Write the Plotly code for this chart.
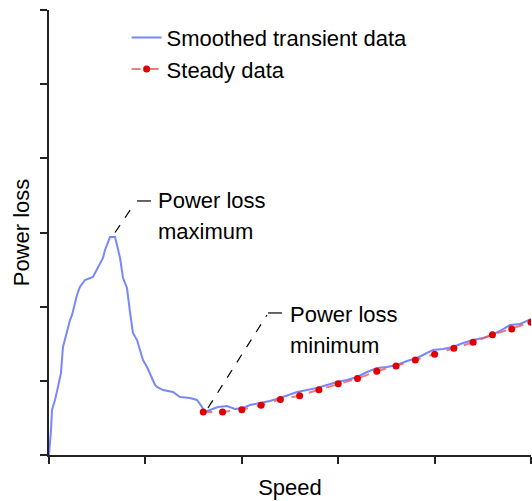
import plotly.graph_objects as go

# Smoothed transient data (speed, power loss) in axis units
transient_speed = [0.000, 0.010, 0.021, 0.031, 0.062, 0.093, 0.124, 0.145, 0.187, 0.218,
                   0.239, 0.290, 0.321, 0.373, 0.456, 0.508, 0.560, 0.581, 0.612, 0.633,
                   0.685, 0.705, 0.737, 0.768, 0.809, 0.840, 0.861, 0.871, 0.913, 0.944,
                   0.975, 1.017, 1.068, 1.100, 1.120, 1.183, 1.286, 1.359, 1.463, 1.535,
                   1.587, 1.618, 1.670, 1.753, 1.846, 1.929, 2.012, 2.085, 2.188, 2.292,
                   2.396, 2.500, 2.573, 2.676, 2.780, 2.884, 2.988, 3.091, 3.195, 3.299,
                   3.402, 3.506, 3.610, 3.714, 3.817, 3.900, 3.983, 4.087, 4.191, 4.295,
                   4.398, 4.502, 4.595, 4.678, 4.782, 4.886, 4.990, 5.000]
transient_loss = [0.000, 0.135, 0.337, 0.607, 0.742, 0.917, 1.106, 1.456, 1.685, 1.820,
                  1.888, 2.157, 2.265, 2.359, 2.400, 2.521, 2.656, 2.764, 2.872, 2.939,
                  2.939, 2.831, 2.656, 2.386, 2.252, 1.928, 1.739, 1.645, 1.550, 1.416,
                  1.281, 1.186, 1.025, 0.944, 0.917, 0.876, 0.849, 0.782, 0.769, 0.742,
                  0.647, 0.580, 0.607, 0.647, 0.661, 0.620, 0.634, 0.674, 0.701, 0.728,
                  0.769, 0.822, 0.849, 0.876, 0.903, 0.944, 0.984, 1.011, 1.052, 1.119,
                  1.173, 1.186, 1.213, 1.267, 1.308, 1.362, 1.416, 1.429, 1.456, 1.510,
                  1.550, 1.577, 1.618, 1.672, 1.753, 1.766, 1.820, 1.830]

# Steady data
steady_speed = [1.6, 1.8, 2.0, 2.2, 2.4, 2.6, 2.8, 3.0, 3.2, 3.4, 3.6, 3.8, 4.0, 4.2,
                4.4, 4.6, 4.8, 5.0]
steady_loss = [0.58, 0.58, 0.61, 0.67, 0.75, 0.80, 0.88, 0.96, 1.03, 1.13, 1.20, 1.28,
               1.36, 1.44, 1.52, 1.62, 1.70, 1.79]

x_ticks = [0, 1, 2, 3, 4, 5]
y_ticks = [0, 1, 2, 3, 4, 5, 6]

FONT = "Liberation Sans, Arial, sans-serif"

fig = go.Figure()
fig.add_trace(go.Scatter(
    x=transient_speed, y=transient_loss, mode="lines",
    name="Smoothed transient data",
    line=dict(color="rgb(120,135,250)", width=2),
))
fig.add_trace(go.Scatter(
    x=steady_speed, y=steady_loss, mode="lines+markers",
    name="Steady data",
    line=dict(color="rgba(235,90,90,0.8)", width=2, dash="dash"),
    marker=dict(color="#e00000", size=7, symbol="circle"),
))

shapes = [
    dict(type="line", xref="x", yref="y", x0=0.685, y0=3.0, x1=0.892, y1=3.398,
         line=dict(color="black", width=1.2, dash="dash")),
    dict(type="line", xref="x", yref="y", x0=0.913, y0=3.425, x1=1.058, y1=3.425,
         line=dict(color="black", width=1.2)),
    dict(type="line", xref="x", yref="y", x0=1.649, y0=0.634, x1=2.261, y1=1.888,
         line=dict(color="black", width=1.2, dash="dash")),
    dict(type="line", xref="x", yref="y", x0=2.272, y0=1.915, x1=2.417, y1=1.915,
         line=dict(color="black", width=1.2)),
]

annotations = [
    dict(x=1.111, y=3.425, text="Power loss"),
    dict(x=1.111, y=3.007, text="maximum"),
    dict(x=2.480, y=1.901, text="Power loss"),
    dict(x=2.480, y=1.483, text="minimum"),
]
for a in annotations:
    a.update(xref="x", yref="y", xanchor="left", yanchor="middle", showarrow=False,
             font=dict(family=FONT, size=22, color="black"))

axis_common = dict(
    showgrid=False, zeroline=False, showline=True, linecolor="#222", linewidth=2,
    ticks="outside", ticklen=7, tickwidth=2, tickcolor="#222",
    showticklabels=False, tickmode="array",
)

fig.update_layout(
    width=532, height=501,
    margin=dict(l=49, r=1, t=10, b=46, autoexpand=False),
    paper_bgcolor="white", plot_bgcolor="white",
    font=dict(family=FONT, size=22, color="black"),
    showlegend=True,
    legend=dict(x=0.161, y=0.985, xanchor="left", yanchor="top",
                bgcolor="rgba(0,0,0,0)", font=dict(size=22, family=FONT),
                tracegroupgap=0),
    xaxis=dict(range=[0, 5], tickvals=x_ticks, **axis_common,
               title=dict(text="Speed", standoff=17, font=dict(size=22))),
    yaxis=dict(range=[0, 6], tickvals=y_ticks, **axis_common,
               title=dict(text="Power loss", standoff=4, font=dict(size=22))),
    shapes=shapes,
    annotations=annotations,
)

fig.write_html("out.html")
